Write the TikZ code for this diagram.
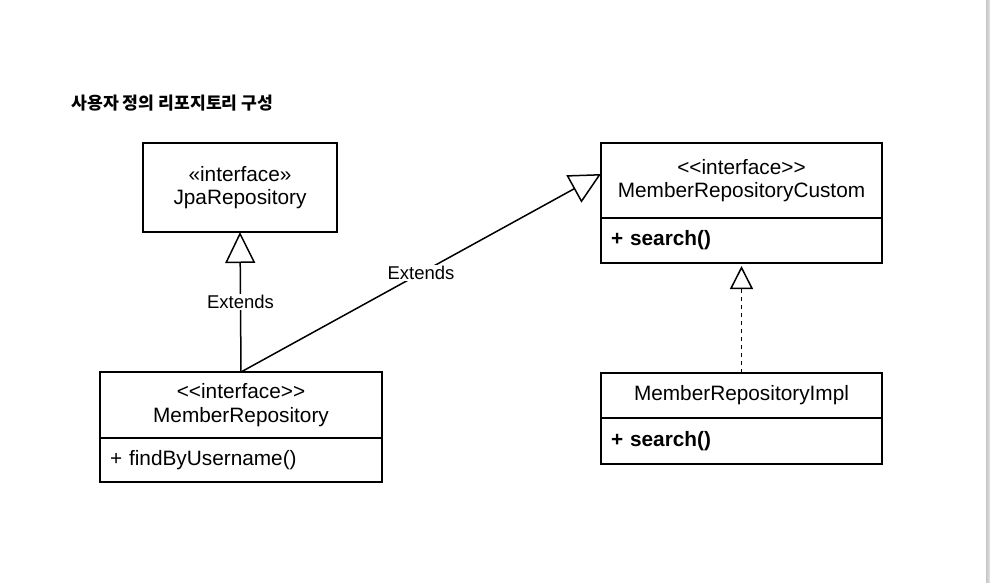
\documentclass[tikz,border=0pt]{standalone}
\usepackage{fontspec}
\setmainfont{Liberation Sans}
\newfontfamily\krfont{Noto Sans CJK KR}
\usetikzlibrary{arrows.meta,positioning}

\begin{document}
\begin{tikzpicture}[x=1pt,y=-1pt,
        uml/.style={rectangle,draw,line width=1.5pt,outer sep=0pt,inner sep=0pt,font=\fontsize{20.8}{23.5}\selectfont},
        member/.style={uml,inner xsep=10pt,align=left},
        link/.style={line width=1.5pt},
        lbl/.style={fill=white,inner sep=1.5pt,font=\fontsize{18.5}{20}\selectfont}]

        \useasboundingbox (0,0) rectangle (990,582);
        \shade [left color=gray!45,right color=gray!20] (986,0) rectangle (990,582);

        \node [anchor=west,font=\krfont\bfseries\fontsize{17.2}{20}\selectfont] (title) at (68,103) {사용자 정의 리포지토리 구성};

        \node [uml,minimum width=194pt,minimum height=89pt,align=center] (jpa) at (240,187.5) {«interface»\\JpaRepository};

        \node [uml,minimum width=282pt,minimum height=66pt,align=center] (mrh) at (241,405) {<{}<interface>{}>\\MemberRepository};
        \node [member,below=0pt of mrh,minimum height=44pt,text width=262pt] (mrb) {+ findByUsername()};

        \node [uml,minimum width=281pt,minimum height=75pt,align=center] (custh) at (741.5,180.5) {<{}<interface>{}>\\MemberRepositoryCustom};
        \node [member,below=0pt of custh,minimum height=45pt,text width=261pt] (custb) {\bfseries + search()};

        \node [uml,minimum width=281pt,minimum height=45pt,align=center] (implh) at (741.5,395.5) {MemberRepositoryImpl};
        \node [member,below=0pt of implh,minimum height=46pt,text width=261pt] (implb) {\bfseries + search()};

        \draw [link,-{Triangle[open,length=31pt,width=30pt]}] (mrh.north) -- node[lbl] {Extends} (jpa.south);
        \draw [link,-{Triangle[open,length=31pt,width=31pt]}] (mrh.north) -- node[lbl] {Extends} ([yshift=6.5pt]custh.west);
        \draw [link,dash pattern=on 4pt off 4pt,shorten >=3pt,-{Triangle[open,length=23pt,width=23pt]}] (implh.north) -- (custb.south);
    \end{tikzpicture}
\end{document}
